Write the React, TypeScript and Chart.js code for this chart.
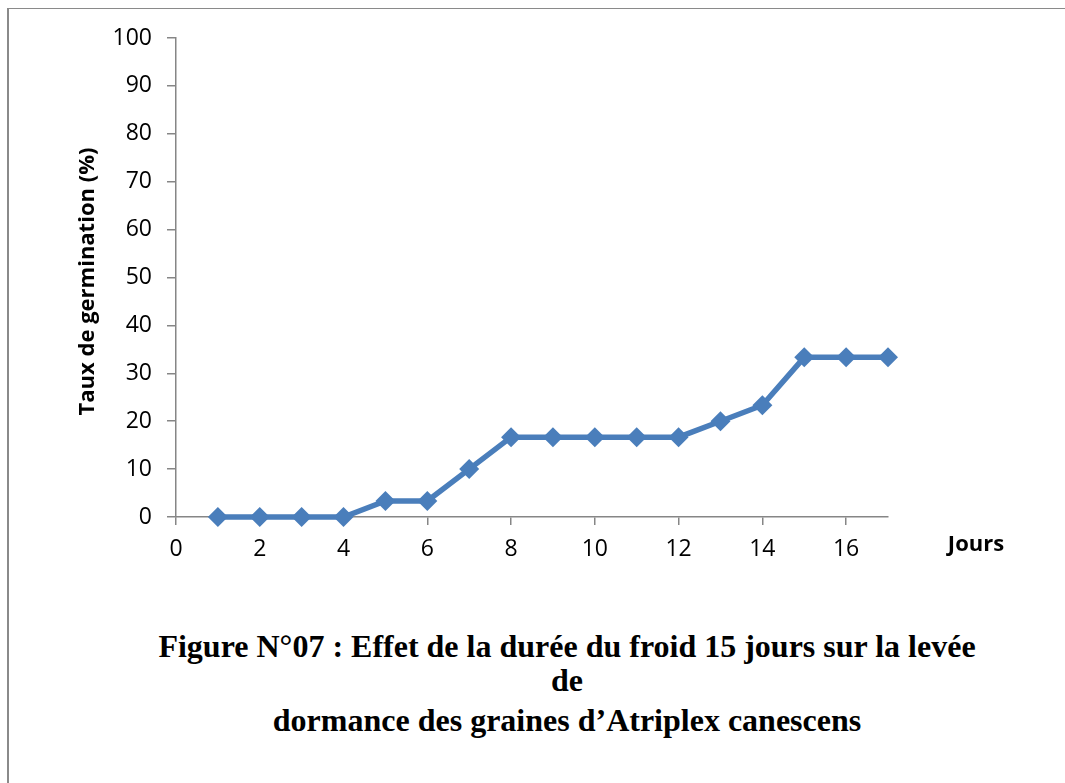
import React, { useEffect, useRef } from "react";
import { Chart, registerables } from "chart.js";

Chart.register(...registerables);

const days = [1, 2, 3, 4, 5, 6, 7, 8, 9, 10, 11, 12, 13, 14, 15, 16, 17];
const germination = [0, 0, 0, 0, 3.33, 3.33, 10, 16.67, 16.67, 16.67, 16.67, 16.67, 20, 23.33, 33.33, 33.33, 33.33];
const yAxisTitle = "Taux de germination (%)";
const xAxisTitle = "Jours";
const captionLines = [
  "Figure N°07 : Effet de la durée du froid 15 jours sur la levée",
  "de",
  "dormance des graines d’Atriplex canescens",
];

const TICK_FONT = "'Open Sans', 'Liberation Sans', sans-serif";
const AXIS_COLOR = "#868686";

const titlesPlugin = {
  id: "customTitles",
  afterDraw(chart: any) {
    const ctx = chart.ctx;
    const area = chart.chartArea;
    ctx.save();
    ctx.fillStyle = "#000";
    ctx.font = `bold 22px ${TICK_FONT}`;
    ctx.textAlign = "center";
    ctx.textBaseline = "middle";
    ctx.translate(88, (area.top + area.bottom) / 2 + 4);
    ctx.rotate(-Math.PI / 2);
    ctx.fillText(yAxisTitle, 0, 0);
    ctx.restore();

    ctx.save();
    ctx.fillStyle = "#000";
    ctx.font = `bold 22px ${TICK_FONT}`;
    ctx.textAlign = "center";
    ctx.textBaseline = "middle";
    ctx.fillText(xAxisTitle, 976, 545);
    ctx.restore();
  },
};

export default function App() {
  const canvasRef = useRef<HTMLCanvasElement | null>(null);

  useEffect(() => {
    if (!canvasRef.current) return;
    const chart = new Chart(canvasRef.current, {
      type: "line",
      data: {
        labels: days,
        datasets: [
          {
            data: days.map((d, i) => ({ x: d, y: germination[i] })),
            borderColor: "#4A7EBB",
            backgroundColor: "#4A7EBB",
            borderWidth: 5.5,
            pointStyle: "rectRot",
            pointRadius: 10,
            pointBorderWidth: 0,
            pointBackgroundColor: "#4A7EBB",
            tension: 0,
            clip: false,
          },
        ],
      },
      options: {
        animation: false,
        responsive: false,
        devicePixelRatio: 1,
        layout: { padding: { left: 0, top: 38, right: 177, bottom: 0 } },
        plugins: { legend: { display: false }, tooltip: { enabled: false }, title: { display: false } },
        scales: {
          x: {
            type: "linear",
            min: 0,
            max: 17,
            afterFit(scale: any) {
              scale.height = 83;
            },
            ticks: {
              stepSize: 2,
              includeBounds: false,
              color: "#000",
              font: { family: TICK_FONT, size: 23 },
              padding: 11,
              maxRotation: 0,
            },
            grid: { drawOnChartArea: false, drawTicks: true, tickLength: 8, color: AXIS_COLOR, lineWidth: 1.5 },
            border: { color: AXIS_COLOR, width: 1.5 },
          },
          y: {
            min: 0,
            max: 100,
            afterFit(scale: any) {
              scale.width = 176;
            },
            ticks: {
              stepSize: 10,
              color: "#000",
              font: { family: TICK_FONT, size: 23 },
              padding: 15,
            },
            grid: { drawOnChartArea: false, drawTicks: true, tickLength: 9, color: AXIS_COLOR, lineWidth: 1.5 },
            border: { color: AXIS_COLOR, width: 1.5 },
          },
        },
      },
      plugins: [titlesPlugin],
    });
    return () => chart.destroy();
  }, []);

  const captionTops = [646, 680, 720];

  return (
    <div>
      <div
        style={{
          position: "absolute",
          left: 7,
          top: 8,
          width: 1058,
          height: 775,
          borderLeft: "2px solid #8a8a8a",
          borderTop: "1.5px solid #8a8a8a",
        }}
      />
      <canvas
        ref={canvasRef}
        width={1065}
        height={600}
        style={{ position: "absolute", left: 0, top: 0, width: 1065, height: 600 }}
      />
      {captionLines.map((line, i) => (
        <div
          key={i}
          style={{
            position: "absolute",
            left: 567,
            top: captionTops[i],
            transform: "translate(-50%, -50%)",
            whiteSpace: "nowrap",
            fontFamily: "'Liberation Serif', 'Times New Roman', serif",
            fontWeight: "bold",
            fontSize: 32,
            lineHeight: "36px",
            color: "#000",
          }}
        >
          {line}
        </div>
      ))}
    </div>
  );
}
